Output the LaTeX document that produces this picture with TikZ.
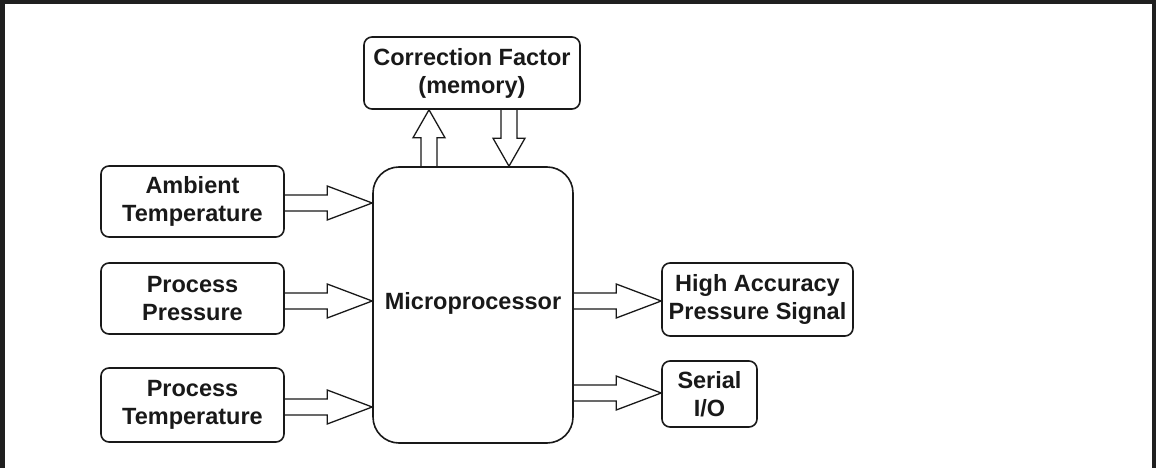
\documentclass[tikz,border=0pt]{standalone}
\usepackage{fontspec}
\setmainfont{Liberation Sans}
\usetikzlibrary{calc}
\tikzset{
  lbl/.style={inner sep=0pt, align=center, font=\fontsize{23.5}{28}\selectfont\bfseries, text=black!90},
  box/.style={lbl, draw=black!90, line width=1.6pt, rounded corners=8pt},
  blk/.style={draw=black!90, line width=1.3pt, line join=miter},
}
\newcommand\harrow[2]{%
  \draw[blk] let \p1=(#1), \p2=(#2) in
    (\x1,{\y1+8pt}) -- ({\x2-45pt},{\y1+8pt}) -- ({\x2-45pt},{\y1+17pt}) -- (\x2,\y1)
    -- ({\x2-45pt},{\y1-17pt}) -- ({\x2-45pt},{\y1-8pt}) -- (\x1,{\y1-8pt});}
\newcommand\varrow[3]{% from #1 to #2 vertical; #3 = +1 up / -1 down (canvas)
  \draw[blk] let \p1=(#1), \p2=(#2) in
    ({\x1-8pt},\y1) -- ({\x1-8pt},{\y2-#3*28pt}) -- ({\x1-16pt},{\y2-#3*28pt}) -- (\x1,\y2)
    -- ({\x1+16pt},{\y2-#3*28pt}) -- ({\x1+8pt},{\y2-#3*28pt}) -- ({\x1+8pt},\y1);}
\begin{document}
\begin{tikzpicture}[x=1pt,y=-1pt]
\useasboundingbox (0,0) rectangle (1156,468);
% frame
\fill[black!88] (0,0) rectangle (1156,4.5);
\fill[black!88] (0,0) rectangle (5,468);
\fill[black!88] (1151.5,0) rectangle (1156,468);
% boxes
\node[box, minimum width=216pt, minimum height=72pt] (cf) at (472,73) {Correction Factor\\(memory)};
\node[box, rounded corners=26pt, minimum width=200pt, minimum height=276pt] (mp) at (473,305) {};
\node[lbl] (mpt) at (473,303) {Microprocessor};
\node[box, minimum width=183pt, minimum height=71pt] (amb) at (192.5,201.5) {Ambient\\Temperature};
\node[box, minimum width=183pt, minimum height=71pt] (pp) at (192.5,298.5) {Process\\Pressure};
\node[box, minimum width=183pt, minimum height=74pt] (pt) at (192.5,405) {Process\\Temperature};
\node[box, minimum width=191pt, minimum height=73pt] (ha) at (757.5,299.5) {High Accuracy\\Pressure Signal};
\node[box, minimum width=95pt, minimum height=66pt] (ser) at (709.5,394) {Serial\\I/O};
% connectors
\coordinate (a1) at ($(amb.east)+(0,1.5)$);
\harrow{a1}{a1 -| mp.west}
\coordinate (a2) at ($(pp.east)+(0,2.5)$);
\harrow{a2}{a2 -| mp.west}
\coordinate (a3) at ($(pt.east)+(0,2)$);
\harrow{a3}{a3 -| mp.west}
\coordinate (a4) at ($(ha.west)+(0,1.5)$);
\harrow{a4 -| mp.east}{a4}
\coordinate (a5) at ($(ser.west)+(0,-1)$);
\harrow{a5 -| mp.east}{a5}
\coordinate (u1) at (429,0);
\varrow{u1 |- mp.north}{u1 |- cf.south}{1}
\coordinate (d1) at (509,0);
\varrow{d1 |- cf.south}{d1 |- mp.north}{-1}
\end{tikzpicture}
\end{document}
